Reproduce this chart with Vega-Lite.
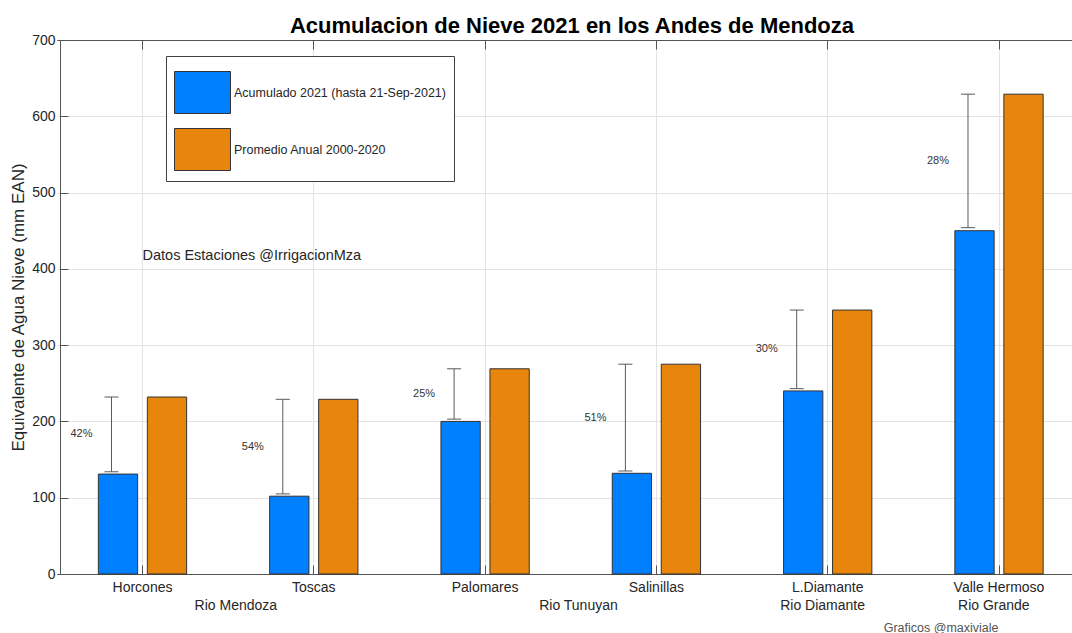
{
  "$schema": "https://vega.github.io/schema/vega-lite/v6.json",
  "width": 1012,
  "height": 534,
  "autosize": {"type": "none"},
  "padding": {"left": 60, "top": 40, "right": 0, "bottom": 59},
  "background": "white",
  "title": {
    "text": "Acumulacion de Nieve 2021 en los Andes de Mendoza",
    "font": "Liberation Sans",
    "fontSize": 22,
    "fontWeight": "bold",
    "color": "#000000",
    "anchor": "middle",
    "offset": 3,
    "dx": 6,
    "dy": 8
  },
  "config": {
    "view": {"stroke": null},
    "font": "Liberation Sans",
    "text": {"font": "Liberation Sans"},
    "axisY": {
      "labelFontSize": 14,
      "labelColor": "#262626",
      "labelPadding": 13,
      "tickSize": -8,
      "tickColor": "#555555",
      "domainColor": "#555555",
      "grid": true,
      "gridColor": "#e3e3e3",
      "titleFontSize": 17,
      "titleFontWeight": "normal",
      "titleColor": "#262626",
      "titlePadding": 4
    }
  },
  "datasets": {
    "bars": [
      {"station": "Horcones", "series": "Acumulado 2021 (hasta 21-Sep-2021)", "value": 131},
      {"station": "Horcones", "series": "Promedio Anual 2000-2020", "value": 232},
      {"station": "Toscas", "series": "Acumulado 2021 (hasta 21-Sep-2021)", "value": 102},
      {"station": "Toscas", "series": "Promedio Anual 2000-2020", "value": 229},
      {"station": "Palomares", "series": "Acumulado 2021 (hasta 21-Sep-2021)", "value": 200},
      {"station": "Palomares", "series": "Promedio Anual 2000-2020", "value": 269},
      {"station": "Salinillas", "series": "Acumulado 2021 (hasta 21-Sep-2021)", "value": 132},
      {"station": "Salinillas", "series": "Promedio Anual 2000-2020", "value": 275},
      {"station": "L.Diamante", "series": "Acumulado 2021 (hasta 21-Sep-2021)", "value": 240},
      {"station": "L.Diamante", "series": "Promedio Anual 2000-2020", "value": 346},
      {"station": "Valle Hermoso", "series": "Acumulado 2021 (hasta 21-Sep-2021)", "value": 450},
      {"station": "Valle Hermoso", "series": "Promedio Anual 2000-2020", "value": 629}
    ],
    "stations": [
      {"station": "Horcones", "lo": 134, "hi": 232, "pct": "42%"},
      {"station": "Toscas", "lo": 105, "hi": 229, "pct": "54%"},
      {"station": "Palomares", "lo": 203, "hi": 269, "pct": "25%"},
      {"station": "Salinillas", "lo": 135, "hi": 275, "pct": "51%"},
      {"station": "L.Diamante", "lo": 243, "hi": 346, "pct": "30%"},
      {"station": "Valle Hermoso", "lo": 454, "hi": 629, "pct": "28%"}
    ],
    "riversBetween": [
      {"station": "Horcones", "river": "Rio Mendoza"},
      {"station": "Palomares", "river": "Rio Tunuyan"}
    ],
    "riversUnder": [
      {"station": "L.Diamante", "river": "Rio Diamante"},
      {"station": "Valle Hermoso", "river": "Rio Grande"}
    ]
  },
  "resolve": {"axis": {"x": "independent"}},
  "layer": [
    {
      "data": {"name": "bars"},
      "mark": {"type": "bar", "stroke": "#333333", "strokeWidth": 1, "opacity": 1},
      "encoding": {
        "x": {
          "field": "station",
          "type": "nominal",
          "scale": {
            "domain": ["Horcones", "Toscas", "Palomares", "Salinillas", "L.Diamante", "Valle Hermoso"],
            "range": [-3.15, 1024.65],
            "paddingInner": 0,
            "paddingOuter": 0
          },
          "axis": {
            "orient": "bottom",
            "bandPosition": 0.5,
            "labelAngle": 0,
            "labelFontSize": 14,
            "labelColor": "#262626",
            "labelPadding": 15,
            "labelBaseline": "top",
            "tickSize": -9,
            "tickColor": "#555555",
            "domainColor": "#555555",
            "grid": true,
            "gridColor": "#e3e3e3",
            "title": "Graficos @maxiviale",
            "titleFontSize": 12.5,
            "titleFontWeight": "normal",
            "titleColor": "#555555",
            "titleX": 938,
            "titleY": 53,
            "titleAlign": "right",
            "titleBaseline": "middle",
            "titleAnchor": "end"
          }
        },
        "xOffset": {
          "field": "series",
          "type": "nominal",
          "scale": {"paddingInner": 0.198, "paddingOuter": 0.847}
        },
        "y": {
          "field": "value",
          "type": "quantitative",
          "scale": {"domain": [0, 700], "nice": false},
          "axis": {
            "title": "Equivalente de Agua Nieve (mm EAN)",
            "values": [0, 100, 200, 300, 400, 500, 600, 700]
          }
        },
        "color": {
          "field": "series",
          "type": "nominal",
          "scale": {
            "domain": ["Acumulado 2021 (hasta 21-Sep-2021)", "Promedio Anual 2000-2020"],
            "range": ["#0080ff", "#e8850c"]
          },
          "legend": {
            "orient": "none",
            "legendX": 106,
            "legendY": 16,
            "title": null,
            "fillColor": "#ffffff",
            "strokeColor": "#404040",
            "padding": 8,
            "symbolType": "M-1,-0.75H1V0.75H-1Z",
            "symbolSize": 3136,
            "symbolStrokeColor": "#333333",
            "symbolStrokeWidth": 1,
            "symbolOpacity": 1,
            "labelFontSize": 12.5,
            "labelOffset": 3,
            "labelColor": "#262626",
            "labelLimit": 0,
            "rowPadding": 5
          }
        }
      }
    },
    {
      "data": {"name": "stations"},
      "mark": {"type": "rule", "color": "#5a5a5a", "strokeWidth": 1},
      "encoding": {
        "x": {
          "field": "station",
          "type": "nominal",
          "bandPosition": 0.319,
          "axis": {
            "orient": "top",
            "bandPosition": 0.5,
            "labels": false,
            "tickSize": -9,
            "tickColor": "#555555",
            "domainColor": "#555555",
            "grid": false,
            "title": null
          }
        },
        "y": {"field": "lo", "type": "quantitative"},
        "y2": {"field": "hi"}
      }
    },
    {
      "data": {"name": "stations"},
      "transform": [{"fold": ["lo", "hi"], "as": ["end", "v"]}],
      "mark": {"type": "rule", "color": "#5a5a5a", "strokeWidth": 1},
      "encoding": {
        "x": {"field": "station", "type": "nominal", "bandPosition": 0.278, "axis": null},
        "x2": {"field": "station", "bandPosition": 0.36},
        "y": {"field": "v", "type": "quantitative"}
      }
    },
    {
      "data": {"name": "stations"},
      "transform": [{"calculate": "(datum.lo + datum.hi) / 2", "as": "mid"}],
      "mark": {"type": "text", "fontSize": 11, "color": "#333333", "align": "center", "baseline": "middle"},
      "encoding": {
        "x": {"field": "station", "type": "nominal", "bandPosition": 0.144, "axis": null},
        "y": {"field": "mid", "type": "quantitative"},
        "text": {"field": "pct"}
      }
    },
    {
      "data": {"name": "riversBetween"},
      "mark": {"type": "text", "fontSize": 14, "color": "#262626", "align": "center", "baseline": "middle", "dy": 31.7},
      "encoding": {
        "x": {"field": "station", "type": "nominal", "bandPosition": 1.045, "axis": null},
        "y": {"datum": 0, "type": "quantitative"},
        "text": {"field": "river"}
      }
    },
    {
      "data": {"name": "riversUnder"},
      "mark": {"type": "text", "fontSize": 14, "color": "#262626", "align": "center", "baseline": "middle", "dy": 31.7},
      "encoding": {
        "x": {"field": "station", "type": "nominal", "bandPosition": 0.47, "axis": null},
        "y": {"datum": 0, "type": "quantitative"},
        "text": {"field": "river"}
      }
    },
    {
      "data": {"values": [{"note": "Datos Estaciones @IrrigacionMza"}]},
      "mark": {"type": "text", "fontSize": 14.5, "color": "#262626", "align": "left", "baseline": "middle"},
      "encoding": {
        "x": {"datum": "Horcones", "type": "nominal", "bandPosition": 0.5, "axis": null},
        "y": {"datum": 417, "type": "quantitative"},
        "text": {"field": "note"}
      }
    }
  ]
}
